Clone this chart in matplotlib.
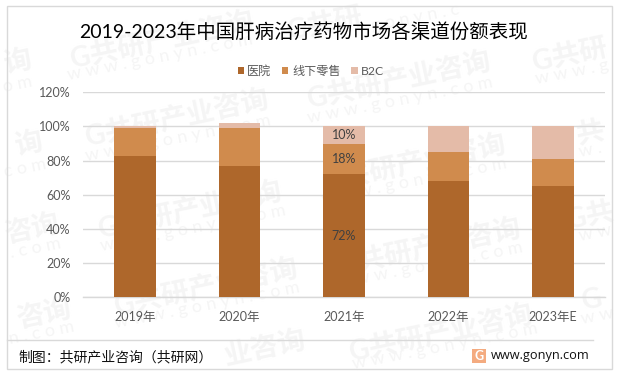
# -*- coding: utf-8 -*-
import matplotlib
matplotlib.use('Agg')
import matplotlib.pyplot as plt
from matplotlib.patches import Rectangle
from matplotlib.lines import Line2D

plt.rcParams['font.family'] = ['Lato', 'Noto Sans CJK SC', 'DejaVu Sans']

years = ['2019年', '2020年', '2021年', '2022年', '2023年E']
hospital = [83, 77, 72, 68, 65]
retail = [16, 22, 18, 17, 16]
b2c = [1, 3, 10, 15, 19]
yticks = [0, 20, 40, 60, 80, 100, 120]
labelled_year = 2

W, H = 619, 373

def fx(x):
    return x / W

def fy(y):
    return 1 - y / H

fig = plt.figure(figsize=(W / 100, H / 100), dpi=100, facecolor='white')

# watermarks, pixel centres (edge ones show only what fits)
logo_full = 'G共研产业咨询'
www_full = 'w w w . g o n y n . c o m'
logos = [(162, 40, logo_full), (177, 118, logo_full), (190, 210, logo_full), (206, 287, logo_full),
         (399, 80, logo_full), (414, 163, logo_full), (429, 247, logo_full), (441, 333, logo_full),
         (18, 63, '询'), (29, 145, '询'), (32, 230, '咨询'), (44, 315, '咨询'),
         (570, 55, 'G共研'), (590, 133, '共'), (590, 216, 'G共'), (592, 300, 'G'),
         (325, 24, 'G共研'), (265, 350, '业咨询')]
wwws = [(160, 57, www_full), (178, 138, www_full), (193, 228, www_full), (207, 305, www_full),
        (400, 100, www_full), (414, 181, www_full), (430, 265, www_full), (445, 346, www_full),
        (18, 84, 'o m'), (25, 168, 'c o m'), (35, 248, '. c o m'), (42, 333, 'n . c o m'),
        (572, 72, 'w w w . g'), (590, 150, 'w .'), (595, 233, 'w w'), (597, 316, 'w w'),
        (415, 18, 'g o n y n . c')]
for mx, my, s in logos:
    fig.text(fx(mx), fy(my), s, fontsize=20, fontweight='bold', color='#f5f5f5',
             rotation=12, ha='center', va='center', rotation_mode='anchor', zorder=0)
for mx, my, s in wwws:
    fig.text(fx(mx), fy(my), s, fontsize=13, color='#f5f5f5',
             rotation=11, ha='center', va='center', rotation_mode='anchor', zorder=0)

ax = fig.add_axes([fx(83), fy(297.3), fx(522), (297.3 - 92.3) / H])
ax.set_zorder(2)
ax.patch.set_alpha(0)

x = range(len(years))
bottom2 = [a for a in hospital]
bottom3 = [a + b for a, b in zip(hospital, retail)]
b1 = ax.bar(x, hospital, width=0.4, color='#AE672B', label='医院', zorder=3)
b2 = ax.bar(x, retail, width=0.4, bottom=bottom2, color='#D08B4D', label='线下零售', zorder=3)
b3 = ax.bar(x, b2c, width=0.4, bottom=bottom3, color='#E4BBA8', label='B2C', zorder=3)

for vals, bots in [(hospital, [0] * 5), (retail, bottom2), (b2c, bottom3)]:
    ax.text(labelled_year, bots[labelled_year] + vals[labelled_year] / 2,
            '%d%%' % vals[labelled_year], ha='center', va='center',
            fontsize=9, color='#404040', zorder=4)

ax.set_xlim(-0.5, 4.5)
ax.set_ylim(0, 120)
ax.set_xticks(list(x))
ax.set_xticklabels(years, fontsize=9, color='#595959')
ax.set_yticks(yticks)
ax.set_yticklabels(['%d%%' % t for t in yticks], fontsize=9, color='#595959')
ax.tick_params(axis='both', length=0)
ax.tick_params(axis='x', pad=10)
ax.tick_params(axis='y', pad=9)
ax.grid(axis='y', color='#d9d9d9', lw=1, zorder=1)
ax.set_axisbelow(True)
for s in ['top', 'right', 'left']:
    ax.spines[s].set_visible(False)
ax.spines['bottom'].set_color('#d9d9d9')
ax.spines['bottom'].set_linewidth(1)

leg = fig.legend(handles=[b1, b2, b3], loc='center', bbox_to_anchor=(fx(311), fy(71)), ncol=3, frameon=False,
                 fontsize=8.7, labelcolor='#595959', handlelength=0.5, handleheight=0.5,
                 handletextpad=0.3, columnspacing=0.9, borderpad=0)
leg.set_zorder(3)

title = fig.text(fx(303.5), fy(32), '2019-2023年中国肝病治疗药物市场各渠道份额表现', fontsize=14, color='black',
                 ha='center', va='center', zorder=3)

# outer frame and footer
fig.add_artist(Rectangle((fx(6.5), fy(369)), fx(605), 363 / H, transform=fig.transFigure,
                         fill=False, edgecolor='#d9d9d9', lw=1, zorder=3))
fig.add_artist(Line2D([fx(6.5), fx(593)], [fy(339.5), fy(339.5)], transform=fig.transFigure,
                      color='#d9d9d9', lw=1, zorder=3))
fig.text(fx(18), fy(357), '制图：共研产业咨询（共研网）', fontsize=10, color='#111111',
         family=['Noto Sans CJK SC', 'DejaVu Sans'], ha='left', va='center', zorder=3)
fig.add_artist(Rectangle((fx(472), fy(363)), fx(14), 14 / H, transform=fig.transFigure,
                         facecolor='#F4AB80', edgecolor='none', zorder=3))
fig.text(fx(479), fy(356), 'G', fontsize=9, fontweight='bold', color='white', ha='center', va='center', zorder=4)
fig.text(fx(491), fy(356), 'www.gonyn.com', fontsize=9.2, color='#111111',
         family='Open Sans', ha='left', va='center', zorder=3)

fig.savefig('out.png', dpi=100)
